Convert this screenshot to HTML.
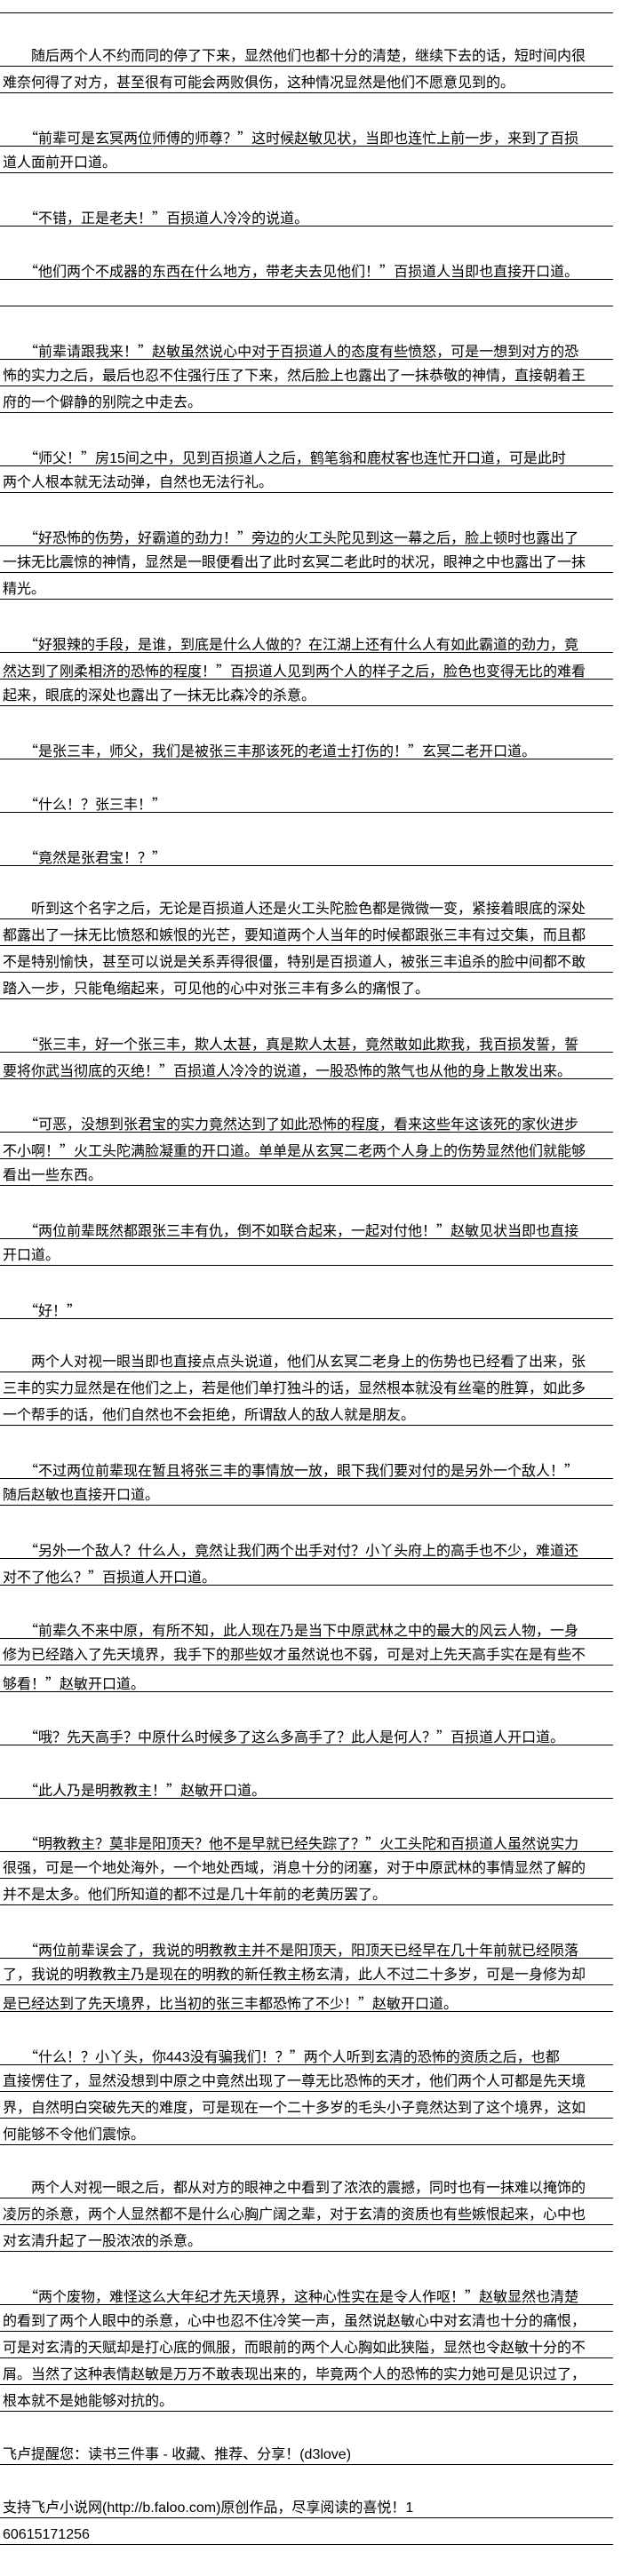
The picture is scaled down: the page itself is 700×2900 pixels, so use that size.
<!DOCTYPE html>
<html><head><meta charset="utf-8">
<style>
html,body{margin:0;padding:0;background:#fff;}
body{width:700px;height:2900px;overflow:hidden;position:relative;font-family:"Liberation Sans","Noto Sans CJK SC",sans-serif;font-size:16px;color:#000;}
#w{position:absolute;left:0;top:-15px;width:690px;}
#w div{height:30px;box-sizing:border-box;padding:11px 0 0 3px;line-height:16px;white-space:nowrap;overflow:hidden;}
#w div.r{border-bottom:1px solid #000;}
b{font-weight:normal;font-family:"Noto Sans CJK SC",sans-serif;}
</style></head><body>
<div id="w">
<div class="r"></div>
<div></div>
<div class="r">　　随后两个人不约而同的停了下来，显然他们也都十分的清楚，继续下去的话，短时间内很</div>
<div class="r">难奈何得了对方，甚至很有可能会两败俱伤，这种情况显然是他们不愿意见到的。</div>
<div></div>
<div class="r">　　<b>“</b>前辈可是玄冥两位师傅的师尊？<b>”</b>这时候赵敏见状，当即也连忙上前一步，来到了百损</div>
<div class="r">道人面前开口道。</div>
<div></div>
<div class="r">　　<b>“</b>不错，正是老夫！<b>”</b>百损道人冷冷的说道。</div>
<div></div>
<div class="r">　　<b>“</b>他们两个不成器的东西在什么地方，带老夫去见他们！<b>”</b>百损道人当即也直接开口道。</div>
<div class="r"></div>
<div></div>
<div class="r">　　<b>“</b>前辈请跟我来！<b>”</b>赵敏虽然说心中对于百损道人的态度有些愤怒，可是一想到对方的恐</div>
<div class="r">怖的实力之后，最后也忍不住强行压了下来，然后脸上也露出了一抹恭敬的神情，直接朝着王</div>
<div class="r">府的一个僻静的别院之中走去。</div>
<div></div>
<div class="r">　　<b>“</b>师父！<b>”</b>房15间之中，见到百损道人之后，鹤笔翁和鹿杖客也连忙开口道，可是此时</div>
<div class="r">两个人根本就无法动弹，自然也无法行礼。</div>
<div></div>
<div class="r">　　<b>“</b>好恐怖的伤势，好霸道的劲力！<b>”</b>旁边的火工头陀见到这一幕之后，脸上顿时也露出了</div>
<div class="r">一抹无比震惊的神情，显然是一眼便看出了此时玄冥二老此时的状况，眼神之中也露出了一抹</div>
<div class="r">精光。</div>
<div></div>
<div class="r">　　<b>“</b>好狠辣的手段，是谁，到底是什么人做的？在江湖上还有什么人有如此霸道的劲力，竟</div>
<div class="r">然达到了刚柔相济的恐怖的程度！<b>”</b>百损道人见到两个人的样子之后，脸色也变得无比的难看</div>
<div class="r">起来，眼底的深处也露出了一抹无比森冷的杀意。</div>
<div></div>
<div class="r">　　<b>“</b>是张三丰，师父，我们是被张三丰那该死的老道士打伤的！<b>”</b>玄冥二老开口道。</div>
<div></div>
<div class="r">　　<b>“</b>什么！？张三丰！<b>”</b></div>
<div></div>
<div class="r">　　<b>“</b>竟然是张君宝！？<b>”</b></div>
<div></div>
<div class="r">　　听到这个名字之后，无论是百损道人还是火工头陀脸色都是微微一变，紧接着眼底的深处</div>
<div class="r">都露出了一抹无比愤怒和嫉恨的光芒，要知道两个人当年的时候都跟张三丰有过交集，而且都</div>
<div class="r">不是特别愉快，甚至可以说是关系弄得很僵，特别是百损道人，被张三丰追杀的脸中间都不敢</div>
<div class="r">踏入一步，只能龟缩起来，可见他的心中对张三丰有多么的痛恨了。</div>
<div></div>
<div class="r">　　<b>“</b>张三丰，好一个张三丰，欺人太甚，真是欺人太甚，竟然敢如此欺我，我百损发誓，誓</div>
<div class="r">要将你武当彻底的灭绝！<b>”</b>百损道人冷冷的说道，一股恐怖的煞气也从他的身上散发出来。</div>
<div></div>
<div class="r">　　<b>“</b>可恶，没想到张君宝的实力竟然达到了如此恐怖的程度，看来这些年这该死的家伙进步</div>
<div class="r">不小啊！<b>”</b>火工头陀满脸凝重的开口道。单单是从玄冥二老两个人身上的伤势显然他们就能够</div>
<div class="r">看出一些东西。</div>
<div></div>
<div class="r">　　<b>“</b>两位前辈既然都跟张三丰有仇，倒不如联合起来，一起对付他！<b>”</b>赵敏见状当即也直接</div>
<div class="r">开口道。</div>
<div></div>
<div class="r">　　<b>“</b>好！<b>”</b></div>
<div></div>
<div class="r">　　两个人对视一眼当即也直接点点头说道，他们从玄冥二老身上的伤势也已经看了出来，张</div>
<div class="r">三丰的实力显然是在他们之上，若是他们单打独斗的话，显然根本就没有丝毫的胜算，如此多</div>
<div class="r">一个帮手的话，他们自然也不会拒绝，所谓敌人的敌人就是朋友。</div>
<div></div>
<div class="r">　　<b>“</b>不过两位前辈现在暂且将张三丰的事情放一放，眼下我们要对付的是另外一个敌人！<b>”</b></div>
<div class="r">随后赵敏也直接开口道。</div>
<div></div>
<div class="r">　　<b>“</b>另外一个敌人？什么人，竟然让我们两个出手对付？小丫头府上的高手也不少，难道还</div>
<div class="r">对不了他么？<b>”</b>百损道人开口道。</div>
<div></div>
<div class="r">　　<b>“</b>前辈久不来中原，有所不知，此人现在乃是当下中原武林之中的最大的风云人物，一身</div>
<div class="r">修为已经踏入了先天境界，我手下的那些奴才虽然说也不弱，可是对上先天高手实在是有些不</div>
<div class="r">够看！<b>”</b>赵敏开口道。</div>
<div></div>
<div class="r">　　<b>“</b>哦？先天高手？中原什么时候多了这么多高手了？此人是何人？<b>”</b>百损道人开口道。</div>
<div></div>
<div class="r">　　<b>“</b>此人乃是明教教主！<b>”</b>赵敏开口道。</div>
<div></div>
<div class="r">　　<b>“</b>明教教主？莫非是阳顶天？他不是早就已经失踪了？<b>”</b>火工头陀和百损道人虽然说实力</div>
<div class="r">很强，可是一个地处海外，一个地处西域，消息十分的闭塞，对于中原武林的事情显然了解的</div>
<div class="r">并不是太多。他们所知道的都不过是几十年前的老黄历罢了。</div>
<div></div>
<div class="r">　　<b>“</b>两位前辈误会了，我说的明教教主并不是阳顶天，阳顶天已经早在几十年前就已经陨落</div>
<div class="r">了，我说的明教教主乃是现在的明教的新任教主杨玄清，此人不过二十多岁，可是一身修为却</div>
<div class="r">是已经达到了先天境界，比当初的张三丰都恐怖了不少！<b>”</b>赵敏开口道。</div>
<div></div>
<div class="r">　　<b>“</b>什么！？小丫头，你443没有骗我们！？<b>”</b>两个人听到玄清的恐怖的资质之后，也都</div>
<div class="r">直接愣住了，显然没想到中原之中竟然出现了一尊无比恐怖的天才，他们两个人可都是先天境</div>
<div class="r">界，自然明白突破先天的难度，可是现在一个二十多岁的毛头小子竟然达到了这个境界，这如</div>
<div class="r">何能够不令他们震惊。</div>
<div></div>
<div class="r">　　两个人对视一眼之后，都从对方的眼神之中看到了浓浓的震撼，同时也有一抹难以掩饰的</div>
<div class="r">凌厉的杀意，两个人显然都不是什么心胸广阔之辈，对于玄清的资质也有些嫉恨起来，心中也</div>
<div class="r">对玄清升起了一股浓浓的杀意。</div>
<div></div>
<div class="r">　　<b>“</b>两个废物，难怪这么大年纪才先天境界，这种心性实在是令人作呕！<b>”</b>赵敏显然也清楚</div>
<div class="r">的看到了两个人眼中的杀意，心中也忍不住冷笑一声，虽然说赵敏心中对玄清也十分的痛恨，</div>
<div class="r">可是对玄清的天赋却是打心底的佩服，而眼前的两个人心胸如此狭隘，显然也令赵敏十分的不</div>
<div class="r">屑。当然了这种表情赵敏是万万不敢表现出来的，毕竟两个人的恐怖的实力她可是见识过了，</div>
<div class="r">根本就不是她能够对抗的。</div>
<div></div>
<div class="r">飞卢提醒您：读书三件事 - 收藏、推荐、分享！(d3love)</div>
<div></div>
<div class="r">支持飞卢小说网(http://b.faloo.com)原创作品，尽享阅读的喜悦！1</div>
<div class="r">60615171256</div>
</div>
</body></html>
